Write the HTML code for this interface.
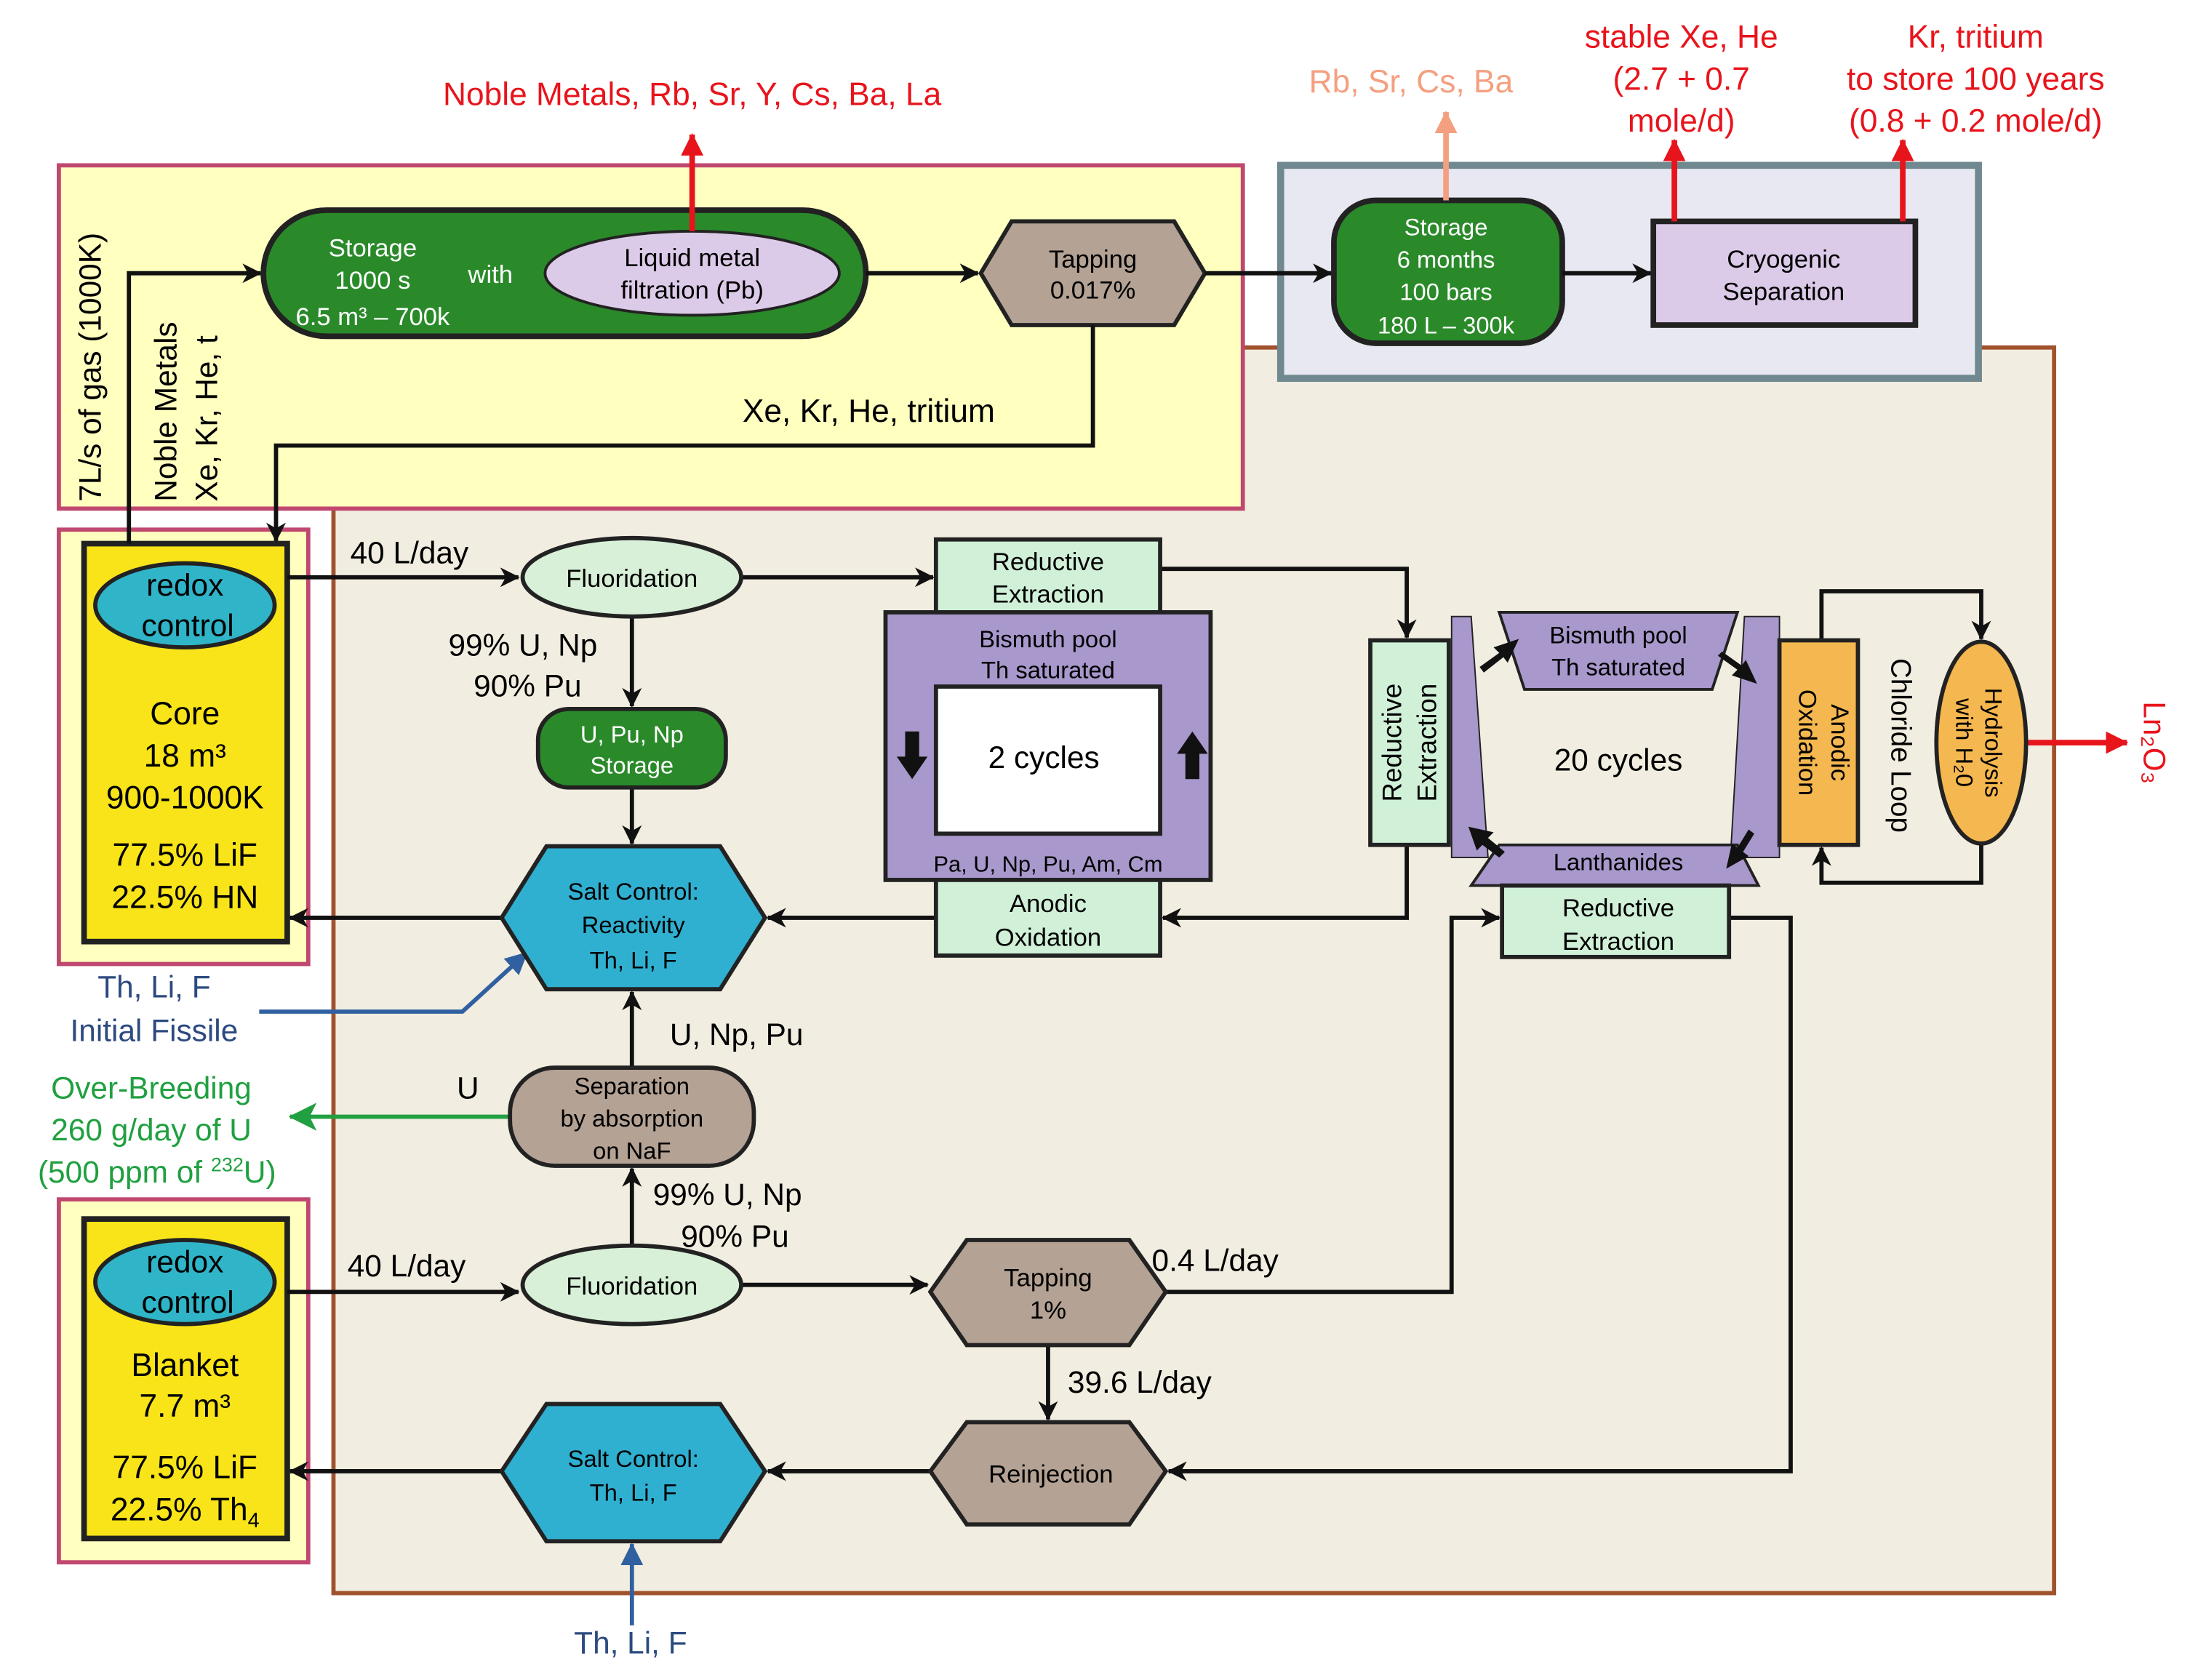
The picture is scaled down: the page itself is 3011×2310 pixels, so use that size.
<!DOCTYPE html>
<html><head><meta charset="utf-8"><style>
html,body{margin:0;padding:0;background:#fff}
svg{display:block}
text{font-family:"Liberation Sans",sans-serif}
</style></head><body>
<svg width="3011" height="2310" viewBox="0 0 1563 1199" preserveAspectRatio="none" xmlns="http://www.w3.org/2000/svg">
<defs>
<marker id="ab" markerWidth="14" markerHeight="14" refX="13" refY="7" orient="auto" markerUnits="userSpaceOnUse"><path d="M0,0 L14,7 L0,14 L4,7 Z" fill="#111"/></marker>
<marker id="ar" markerWidth="16" markerHeight="16" refX="15" refY="8" orient="auto" markerUnits="userSpaceOnUse"><path d="M0,0 L16,8 L0,16 Z" fill="#e8141c"/></marker>
<marker id="as" markerWidth="16" markerHeight="16" refX="15" refY="8" orient="auto" markerUnits="userSpaceOnUse"><path d="M0,0 L16,8 L0,16 Z" fill="#f4a080"/></marker>
<marker id="abl" markerWidth="16" markerHeight="16" refX="15" refY="8" orient="auto" markerUnits="userSpaceOnUse"><path d="M0,0 L16,8 L0,16 Z" fill="#3060a0"/></marker>
<marker id="ag" markerWidth="20" markerHeight="20" refX="19" refY="10" orient="auto" markerUnits="userSpaceOnUse"><path d="M0,0 L20,10 L0,20 L5,10 Z" fill="#20a040"/></marker>
</defs>

<rect x="238" y="248" width="1228" height="889" fill="#f1ede0" stroke="#a0522d" stroke-width="3"/>
<rect x="42" y="118" width="845" height="245" fill="#ffffc0" stroke="#c04870" stroke-width="3"/>
<rect x="914" y="118" width="498" height="152" fill="#e8e8f2" stroke="#708890" stroke-width="5"/>

<rect x="42" y="378" width="178" height="310" fill="#ffffc0" stroke="#c04870" stroke-width="3"/>
<rect x="60" y="388" width="145" height="284" fill="#f8e418" stroke="#222" stroke-width="4"/>
<ellipse cx="132" cy="432" rx="64" ry="30" fill="#30b4c8" stroke="#222" stroke-width="3"/>
<text x="132" y="425" font-size="22" text-anchor="middle">redox</text>
<text x="134" y="454" font-size="22" text-anchor="middle">control</text>
<g font-size="23" text-anchor="middle"><text x="132" y="517">Core</text><text x="132" y="547">18 m³</text><text x="132" y="577">900-1000K</text><text x="132" y="618">77.5% LiF</text><text x="132" y="648">22.5% HN</text></g>

<rect x="42" y="856" width="178" height="259" fill="#ffffc0" stroke="#c04870" stroke-width="3"/>
<rect x="60" y="870" width="145" height="228" fill="#f8e418" stroke="#222" stroke-width="4"/>
<ellipse cx="132" cy="915" rx="64" ry="30" fill="#30b4c8" stroke="#222" stroke-width="3"/>
<text x="132" y="908" font-size="22" text-anchor="middle">redox</text>
<text x="134" y="937" font-size="22" text-anchor="middle">control</text>
<g font-size="23" text-anchor="middle"><text x="132" y="982">Blanket</text><text x="132" y="1011">7.7 m³</text><text x="132" y="1055">77.5% LiF</text><text x="132" y="1085">22.5% Th<tspan font-size="15" dy="5">4</tspan></text></g>

<text transform="translate(72,358) rotate(-90)" font-size="22">7L/s of gas (1000K)</text>
<text transform="translate(126,358) rotate(-90)" font-size="22">Noble Metals</text>
<text transform="translate(155,358) rotate(-90)" font-size="22">Xe, Kr, He, t</text>

<rect x="188" y="150" width="430" height="90" rx="45" fill="#2a8a2a" stroke="#222" stroke-width="4"/>
<ellipse cx="494" cy="195" rx="105" ry="30" fill="#dccbe8" stroke="#222" stroke-width="2"/>
<g fill="#fff" font-size="18" text-anchor="middle"><text x="266" y="183">Storage</text><text x="266" y="206">1000 s</text><text x="266" y="232">6.5 m³ – 700k</text><text x="350" y="202">with</text></g>
<text x="494" y="190" font-size="18" text-anchor="middle">Liquid metal</text>
<text x="494" y="213" font-size="18" text-anchor="middle">filtration (Pb)</text>

<polygon points="700,195 722,158 838,158 860,195 838,232 722,232" fill="#b4a294" stroke="#222" stroke-width="3"/>
<text x="780" y="191" font-size="18" text-anchor="middle">Tapping</text><text x="780" y="213" font-size="18" text-anchor="middle">0.017%</text>

<rect x="952" y="143" width="163" height="102" rx="30" fill="#2a8a2a" stroke="#222" stroke-width="4"/>
<g fill="#fff" font-size="17" text-anchor="middle"><text x="1032" y="168">Storage</text><text x="1032" y="191">6 months</text><text x="1032" y="214">100 bars</text><text x="1032" y="238">180 L – 300k</text></g>
<rect x="1180" y="158" width="187" height="74" fill="#dccbe8" stroke="#222" stroke-width="4"/>
<text x="1273" y="191" font-size="18" text-anchor="middle">Cryogenic</text><text x="1273" y="214" font-size="18" text-anchor="middle">Separation</text>

<text x="494" y="75" font-size="23" fill="#e8141c" text-anchor="middle">Noble Metals, Rb, Sr, Y, Cs, Ba, La</text>
<text x="1007" y="66" font-size="23" fill="#f4a080" text-anchor="middle">Rb, Sr, Cs, Ba</text>
<g fill="#e8141c" font-size="23" text-anchor="middle"><text x="1200" y="34">stable Xe, He</text><text x="1200" y="64">(2.7 + 0.7</text><text x="1200" y="94">mole/d)</text>
<text x="1410" y="34">Kr, tritium</text><text x="1410" y="64">to store 100 years</text><text x="1410" y="94">(0.8 + 0.2 mole/d)</text></g>
<text x="620" y="301" font-size="23" text-anchor="middle">Xe, Kr, He, tritium</text>

<g stroke="#111" stroke-width="3" fill="none">
<path d="M92,388 V195 H186" marker-end="url(#ab)"/>
<path d="M618,195 H698" marker-end="url(#ab)"/>
<path d="M860,195 H950" marker-end="url(#ab)"/>
<path d="M1115,195 H1178" marker-end="url(#ab)"/>
<path d="M780,232 V318 H197 V386" marker-end="url(#ab)"/>
</g>
<path d="M494,165 V96" stroke="#e8141c" stroke-width="4" marker-end="url(#ar)"/>
<path d="M1032,143 V80" stroke="#f4a080" stroke-width="4" marker-end="url(#as)"/>
<path d="M1195,158 V100" stroke="#e8141c" stroke-width="4" marker-end="url(#ar)"/>
<path d="M1358,158 V100" stroke="#e8141c" stroke-width="4" marker-end="url(#ar)"/>

<g stroke="#111" stroke-width="3" fill="none">
<path d="M205,412 H370" marker-end="url(#ab)"/>
<path d="M529,412 H666" marker-end="url(#ab)"/>
<path d="M828,406 H1004 V455" marker-end="url(#ab)"/>
<path d="M451,440 V504" marker-end="url(#ab)"/>
<path d="M451,562 V602" marker-end="url(#ab)"/>
<path d="M358,655 H207" marker-end="url(#ab)"/>
<path d="M668,655 H548" marker-end="url(#ab)"/>
<path d="M1004,603 V655 H830" marker-end="url(#ab)"/>
<path d="M451,762 V708" marker-end="url(#ab)"/>
<path d="M451,889 V834" marker-end="url(#ab)"/>
<path d="M205,922 H370" marker-end="url(#ab)"/>
<path d="M529,917 H662" marker-end="url(#ab)"/>
<path d="M832,922 H1036 V655 H1070" marker-end="url(#ab)"/>
<path d="M748,960 V1013" marker-end="url(#ab)"/>
<path d="M1234,655 H1278 V1050 H834" marker-end="url(#ab)"/>
<path d="M664,1050 H548" marker-end="url(#ab)"/>
<path d="M358,1050 H207" marker-end="url(#ab)"/>
<path d="M1300,457 V422 H1414 V456" marker-end="url(#ab)"/>
<path d="M1414,602 V630 H1300 V605" marker-end="url(#ab)"/>
</g>
<path d="M185,722 H330 L376,680" stroke="#3060a0" stroke-width="3" fill="none" marker-end="url(#abl)"/>
<path d="M451,1160 V1102" stroke="#3060a0" stroke-width="3" marker-end="url(#abl)"/>
<path d="M364,797 H207" stroke="#20a040" stroke-width="3" marker-end="url(#ag)"/>
<path d="M1446,530 H1518" stroke="#e8141c" stroke-width="4" marker-end="url(#ar)"/>

<ellipse cx="451" cy="412" rx="78" ry="28" fill="#d8f0d8" stroke="#222" stroke-width="3"/>
<text x="451" y="419" font-size="18" text-anchor="middle">Fluoridation</text>
<rect x="384" y="506" width="134" height="56" rx="22" fill="#2a8a2a" stroke="#222" stroke-width="3"/>
<text x="451" y="530" font-size="17" fill="#fff" text-anchor="middle">U, Pu, Np</text><text x="451" y="552" font-size="17" fill="#fff" text-anchor="middle">Storage</text>
<polygon points="358,655 390,604 514,604 546,655 514,706 390,706" fill="#30b0d0" stroke="#222" stroke-width="3"/>
<g font-size="17" text-anchor="middle"><text x="452" y="642">Salt Control:</text><text x="452" y="666">Reactivity</text><text x="452" y="691">Th, Li, F</text></g>

<rect x="668" y="385" width="160" height="52" fill="#d0f0d8" stroke="#222" stroke-width="3"/>
<text x="748" y="407" font-size="18" text-anchor="middle">Reductive</text><text x="748" y="430" font-size="18" text-anchor="middle">Extraction</text>
<rect x="632" y="437" width="232" height="191" fill="#a898cc" stroke="#222" stroke-width="3"/>
<rect x="668" y="490" width="160" height="105" fill="#fff" stroke="#222" stroke-width="3"/>
<text x="748" y="462" font-size="17" text-anchor="middle">Bismuth pool</text><text x="748" y="484" font-size="17" text-anchor="middle">Th saturated</text>
<text x="748" y="622" font-size="16" text-anchor="middle">Pa, U, Np, Pu, Am, Cm</text>
<text x="745" y="548" font-size="22" text-anchor="middle">2 cycles</text>
<polygon points="646,522 656,522 656,540 662,540 651,556 640,540 646,540" fill="#111"/>
<polygon points="846,556 856,556 856,538 862,538 851,522 840,538 846,538" fill="#111"/>
<rect x="668" y="628" width="160" height="54" fill="#d0f0d8" stroke="#222" stroke-width="3"/>
<text x="748" y="651" font-size="18" text-anchor="middle">Anodic</text><text x="748" y="675" font-size="18" text-anchor="middle">Oxidation</text>

<rect x="978" y="457" width="56" height="146" fill="#d0f0d8" stroke="#222" stroke-width="3"/>
<text transform="translate(1000,530) rotate(-90)" font-size="19" text-anchor="middle">Reductive</text>
<text transform="translate(1025,530) rotate(-90)" font-size="19" text-anchor="middle">Extraction</text>
<polygon points="1036,440 1050,440 1062,612 1036,612" fill="#a898cc" stroke="#222" stroke-width="1"/>
<polygon points="1245,440 1270,440 1270,612 1235,612" fill="#a898cc" stroke="#222" stroke-width="1"/>
<polygon points="1070,437 1240,437 1222,492 1088,492" fill="#a898cc" stroke="#222" stroke-width="2"/>
<text x="1155" y="459" font-size="17" text-anchor="middle">Bismuth pool</text><text x="1155" y="482" font-size="17" text-anchor="middle">Th saturated</text>
<polygon points="1070,603 1240,603 1255,632 1050,632" fill="#a898cc" stroke="#222" stroke-width="2"/>
<text x="1155" y="621" font-size="17" text-anchor="middle">Lanthanides</text>
<text x="1155" y="550" font-size="22" text-anchor="middle">20 cycles</text>
<g fill="#111">
<polygon points="1056,476 1070,466 1066,462 1084,456 1076,473 1073,469 1059,480"/>
<polygon points="1226,468 1240,478 1236,482 1254,488 1246,471 1243,475 1229,465"/>
<polygon points="1248,592 1240,605 1236,602 1232,620 1248,611 1244,608 1252,595"/>
<polygon points="1074,608 1062,598 1066,594 1048,590 1054,607 1058,603 1070,612"/>
</g>
<rect x="1072" y="632" width="162" height="51" fill="#d0f0d8" stroke="#222" stroke-width="3"/>
<text x="1155" y="654" font-size="18" text-anchor="middle">Reductive</text><text x="1155" y="678" font-size="18" text-anchor="middle">Extraction</text>
<rect x="1270" y="457" width="56" height="146" fill="#f5b850" stroke="#222" stroke-width="3"/>
<text transform="translate(1307,530) rotate(90)" font-size="18" text-anchor="middle">Anodic</text>
<text transform="translate(1284,530) rotate(90)" font-size="18" text-anchor="middle">Oxidation</text>
<text transform="translate(1350,532) rotate(90)" font-size="20" text-anchor="middle">Chloride Loop</text>
<ellipse cx="1414" cy="530" rx="32" ry="72" fill="#f5b850" stroke="#222" stroke-width="3"/>
<text transform="translate(1417,530) rotate(90)" font-size="17" text-anchor="middle">Hydrolysis</text>
<text transform="translate(1396,530) rotate(90)" font-size="17" text-anchor="middle">with H₂0</text>
<text transform="translate(1530,530) rotate(90)" font-size="22" fill="#e8141c" text-anchor="middle">Ln₂O₃</text>

<g font-size="22">
<text x="250" y="402">40 L/day</text>
<text x="320" y="468">99% U, Np</text>
<text x="338" y="497">90% Pu</text>
<text x="478" y="746">U, Np, Pu</text>
<text x="326" y="784">U</text>
<text x="466" y="860">99% U, Np</text>
<text x="486" y="890">90% Pu</text>
<text x="248" y="911">40 L/day</text>
<text x="822" y="907">0.4 L/day</text>
<text x="762" y="994">39.6 L/day</text>
</g>
<g font-size="22" fill="#2c4a80" text-anchor="middle"><text x="110" y="712">Th, Li, F</text><text x="110" y="743">Initial Fissile</text><text x="450" y="1180">Th, Li, F</text></g>
<g font-size="22" fill="#20a040" text-anchor="middle"><text x="108" y="784">Over-Breeding</text><text x="108" y="814">260 g/day of U</text><text x="112" y="844">(500 ppm of <tspan font-size="14" dy="-8">232</tspan><tspan dy="8">U)</tspan></text></g>

<rect x="364" y="762" width="174" height="70" rx="32" fill="#b4a294" stroke="#222" stroke-width="3"/>
<g font-size="17" text-anchor="middle"><text x="451" y="781">Separation</text><text x="451" y="804">by absorption</text><text x="451" y="827">on NaF</text></g>

<ellipse cx="451" cy="917" rx="78" ry="28" fill="#d8f0d8" stroke="#222" stroke-width="3"/>
<text x="451" y="924" font-size="18" text-anchor="middle">Fluoridation</text>
<polygon points="664,922 690,885 806,885 832,922 806,960 690,960" fill="#b4a294" stroke="#222" stroke-width="3"/>
<text x="748" y="918" font-size="18" text-anchor="middle">Tapping</text><text x="748" y="941" font-size="18" text-anchor="middle">1%</text>
<polygon points="358,1050 390,1002 514,1002 546,1050 514,1100 390,1100" fill="#30b0d0" stroke="#222" stroke-width="3"/>
<text x="452" y="1047" font-size="17" text-anchor="middle">Salt Control:</text><text x="452" y="1071" font-size="17" text-anchor="middle">Th, Li, F</text>
<polygon points="664,1050 690,1015 806,1015 832,1050 806,1088 690,1088" fill="#b4a294" stroke="#222" stroke-width="3"/>
<text x="750" y="1058" font-size="18" text-anchor="middle">Reinjection</text>
</svg>
</body></html>
